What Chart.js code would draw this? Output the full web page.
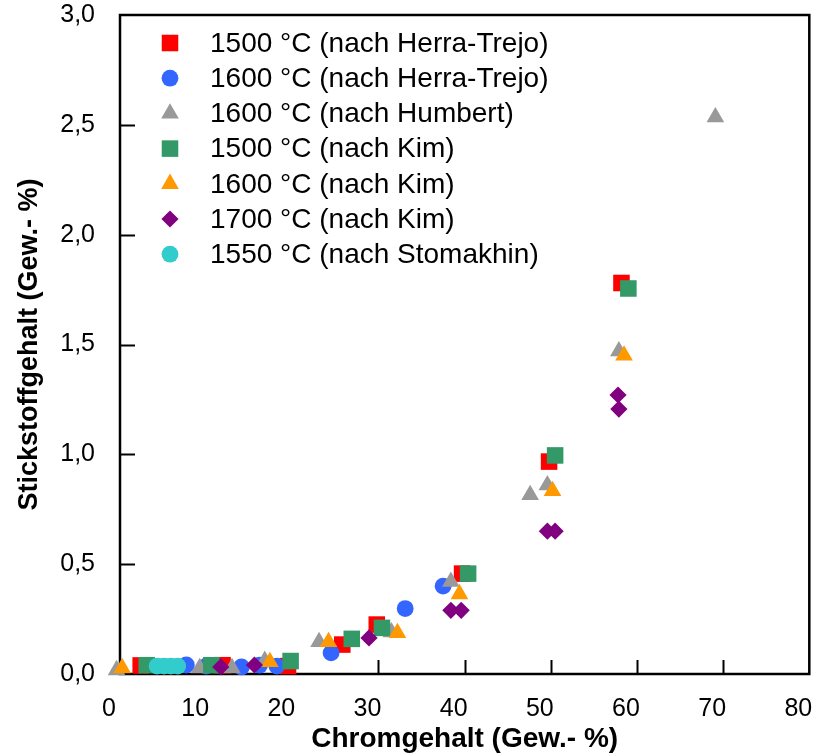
<!DOCTYPE html>
<html>
<head>
<meta charset="utf-8">
<script src="https://cdn.jsdelivr.net/npm/chart.js@4/dist/chart.umd.min.js"></script>
<style>
  html, body { margin: 0; padding: 0; background: #fff; }
  #wrap { width: 821px; height: 756px; }
</style>
</head>
<body>
<div id="wrap"><canvas id="chart"></canvas></div>
<script>
// Stickstofflöslichkeit vs. Chromgehalt
const seriesLabels = [
    '1500 °C (nach Herra-Trejo)',
    '1600 °C (nach Herra-Trejo)',
    '1600 °C (nach Humbert)',
    '1500 °C (nach Kim)',
    '1600 °C (nach Kim)',
    '1700 °C (nach Kim)',
    '1550 °C (nach Stomakhin)'
];

const herraTrejo1500X = [2.4, 11.9, 19.5, 25.8, 29.8, 39.7, 49.8, 58.2];
const herraTrejo1500Y = [0.039, 0.04, 0.036, 0.134, 0.225, 0.457, 0.967, 1.78];

const herraTrejo1600X = [7.7, 10.0, 14.1, 16.2, 18.2, 24.5, 33.1, 37.5];
const herraTrejo1600Y = [0.041, 0.036, 0.032, 0.04, 0.036, 0.096, 0.298, 0.40];

const humbert1600X = [-0.4, 9.25, 13.0, 16.8, 23.1, 31.5, 38.4, 47.6, 49.6, 57.9, 69.1];
const humbert1600Y = [0.018, 0.027, 0.027, 0.06, 0.146, 0.19, 0.42, 0.815, 0.86, 1.47, 2.535];

const kim1500X = [3.1, 10.6, 19.8, 26.9, 30.4, 40.4, 50.5, 59.0];
const kim1500Y = [0.04, 0.04, 0.059, 0.16, 0.21, 0.457, 0.995, 1.755];

const kim1600X = [0.25, 17.4, 24.2, 32.2, 39.4, 50.2, 58.5];
const kim1600Y = [0.027, 0.055, 0.146, 0.187, 0.364, 0.833, 1.45];

const kim1700X = [11.7, 15.6, 28.9, 38.4, 39.6, 49.6, 50.5, 57.8, 57.9];
const kim1700Y = [0.032, 0.041, 0.164, 0.29, 0.29, 0.65, 0.65, 1.27, 1.206];

const stomakhin1550X = [4.3, 5.1, 5.9, 6.7];
const stomakhin1550Y = [0.036, 0.036, 0.036, 0.036];

const xTickLabels = ['0', '10', '20', '30', '40', '50', '60', '70', '80'];
const yTickLabels = ['0,0', '0,5', '1,0', '1,5', '2,0', '2,5', '3,0'];

const seriesX = [herraTrejo1500X, herraTrejo1600X, humbert1600X, kim1500X, kim1600X, kim1700X, stomakhin1550X];
const seriesY = [herraTrejo1500Y, herraTrejo1600Y, humbert1600Y, kim1500Y, kim1600Y, kim1700Y, stomakhin1550Y];
const colors = ['#ff0000', '#3366ff', '#999999', '#339966', '#ff9900', '#800080', '#33cccc'];
const styles = ['rect', 'circle', 'triangle', 'rect', 'triangle', 'rectRot', 'circle'];
const radii = { rect: 11.7, circle: 8.4, triangle: 10.2, rectRot: 8.6 };

Chart.defaults.font.family = '"Liberation Sans", Arial, sans-serif';
Chart.defaults.color = '#000';

function toPoints(xs, ys) {
    return xs.map((x, i) => ({ x: x, y: ys[i] }));
}

// frame round the plot area and inward tick marks
const frameTicks = {
    id: 'frameTicks',
    beforeDatasetsDraw(chart) {
        const { ctx, chartArea: a, scales } = chart;
        ctx.save();
        ctx.strokeStyle = '#000';
        ctx.lineWidth = 2;
        scales.x.ticks.forEach(t => {
            if (t.value <= 0 || t.value >= 80) return;
            const px = Math.round(scales.x.getPixelForValue(t.value)) + 0.5;
            ctx.beginPath();
            ctx.moveTo(px, a.bottom);
            ctx.lineTo(px, a.bottom - 14);
            ctx.stroke();
        });
        scales.y.ticks.forEach(t => {
            if (t.value <= 0 || t.value >= 3) return;
            const py = Math.round(scales.y.getPixelForValue(t.value)) + 0.5;
            ctx.beginPath();
            ctx.moveTo(a.left, py);
            ctx.lineTo(a.left + 15, py);
            ctx.stroke();
        });
        ctx.lineWidth = 2.5;
        ctx.strokeRect(a.left, a.top, a.right - a.left, a.bottom - a.top);
        ctx.restore();
    }
};

// legend in the upper left corner of the plot area
const innerLegend = {
    id: 'innerLegend',
    afterDatasetsDraw(chart) {
        const { ctx, chartArea: a } = chart;
        ctx.save();
        ctx.font = '28px "Liberation Sans", Arial, sans-serif';
        ctx.textBaseline = 'middle';
        ctx.textAlign = 'left';
        chart.data.datasets.forEach((ds, i) => {
            const y = a.top + 28 + i * 35.2;
            ctx.fillStyle = ds.backgroundColor;
            Chart.helpers.drawPoint(ctx, {
                pointStyle: ds.pointStyle,
                radius: ds.pointRadius,
                rotation: 0,
                borderWidth: 0
            }, a.left + 50, y);
            ctx.fillStyle = '#000';
            ctx.fillText(ds.label, a.left + 90, y + 1);
        });
        ctx.restore();
    }
};

const datasets = seriesLabels.map((label, i) => ({
    label: label,
    data: toPoints(seriesX[i], seriesY[i]),
    backgroundColor: colors[i],
    borderColor: colors[i],
    borderWidth: 0,
    pointStyle: styles[i],
    pointRadius: radii[styles[i]],
    pointHoverRadius: radii[styles[i]],
    clip: false,
    order: seriesLabels.length - i
}));

new Chart(document.getElementById('chart'), {
    type: 'scatter',
    data: { datasets: datasets },
    options: {
        responsive: true,
        maintainAspectRatio: false,
        animation: false,
        layout: { padding: { left: 0, top: 15, right: 9, bottom: 0 } },
        plugins: {
            legend: { display: false },
            tooltip: { enabled: false }
        },
        scales: {
            x: {
                type: 'linear',
                min: 0,
                max: 80,
                grid: { display: false, drawTicks: false },
                border: { display: false },
                ticks: {
                    stepSize: 10,
                    autoSkip: false,
                    maxRotation: 0,
                    padding: 20,
                    labelOffset: -11,
                    font: { size: 25 },
                    callback: (v, i) => xTickLabels[i]
                },
                title: {
                    display: true,
                    text: 'Chromgehalt (Gew.- %)',
                    font: { size: 28, weight: 'bold' },
                    padding: { top: 0, bottom: 0 }
                },
                afterFit(scale) {
                    scale.height = 82;
                    scale.paddingLeft = 0;
                    scale.paddingRight = 0;
                }
            },
            y: {
                type: 'linear',
                min: 0,
                max: 3,
                grid: { display: false, drawTicks: false },
                border: { display: false },
                ticks: {
                    stepSize: 0.5,
                    autoSkip: false,
                    padding: 25,
                    font: { size: 25 },
                    callback: (v, i) => yTickLabels[i]
                },
                title: {
                    display: true,
                    text: 'Stickstoffgehalt (Gew.- %)',
                    font: { size: 27, weight: 'bold' },
                    padding: { top: 13, bottom: 0 }
                },
                afterFit(scale) {
                    scale.width = 120;
                    scale.paddingTop = 0;
                    scale.paddingBottom = 0;
                }
            }
        }
    },
    plugins: [frameTicks, innerLegend]
});
</script>
</body>
</html>
